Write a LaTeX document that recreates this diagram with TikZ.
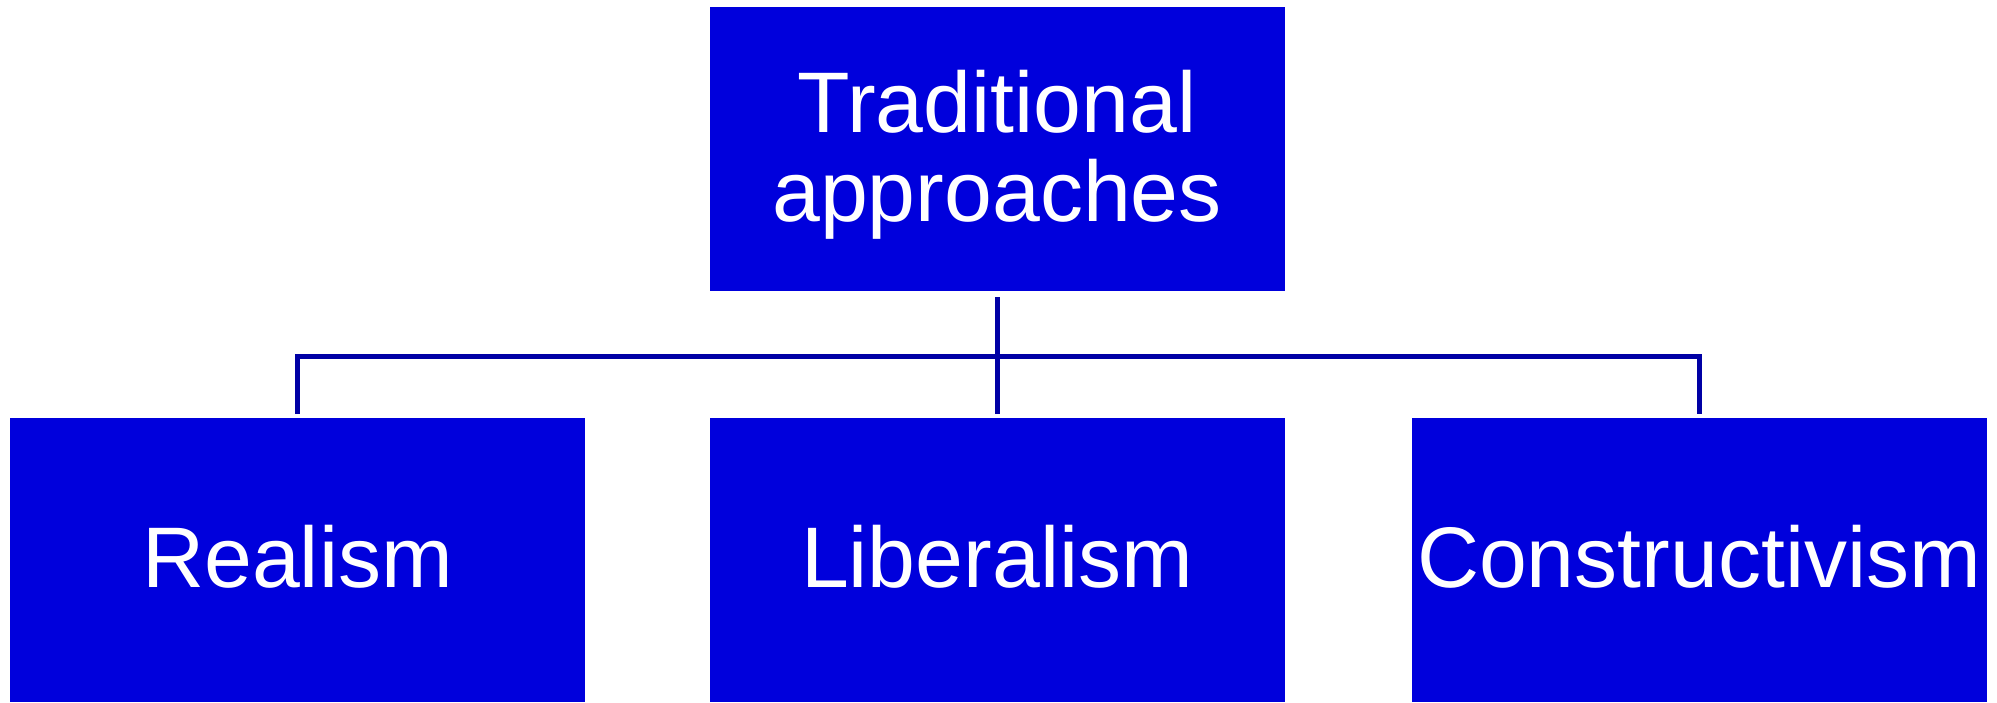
\documentclass[tikz,border=0pt]{standalone}
\usepackage{fontspec}
\setmainfont{Liberation Sans}
\definecolor{boxblue}{RGB}{0,0,220}
\definecolor{lineblue}{RGB}{0,0,165}
\begin{document}
\begin{tikzpicture}[x=1pt,y=-1pt,
  blockbox/.style={rectangle, fill=boxblue, draw=none, inner sep=0pt,
    minimum width=575pt, minimum height=284pt},
  lbl/.style={text=white, inner sep=0pt, anchor=base, align=center,
    font=\fontsize{86}{89}\selectfont},
  conn/.style={draw=lineblue, line width=5pt}]
\useasboundingbox (0,0) rectangle (1997,702);
\node[blockbox] (top) at (997,149) {};
\node[blockbox] (rl) at (297.5,560) {};
\node[blockbox] (lib) at (997,560) {};
\node[blockbox] (con) at (1699,560) {};
\node[lbl] (toptext) at (top.center |- 0,221) {Traditional\\approaches};
\node[lbl] (rltext) at (rl.center |- 0,587) {Realism};
\node[lbl] (libtext) at (lib.center |- 0,587) {Liberalism};
\node[lbl] (context) at (con.center |- 0,587) {Constructivism};
\coordinate (bus) at (997,356);
\draw[conn, shorten <=6pt, shorten >=4pt] (top.south) -- (lib.north);
\draw[conn, shorten <=4pt, shorten >=4pt] (rl.north) -- (rl.north |- bus) -- (con.north |- bus) -- (con.north);
\end{tikzpicture}
\end{document}
